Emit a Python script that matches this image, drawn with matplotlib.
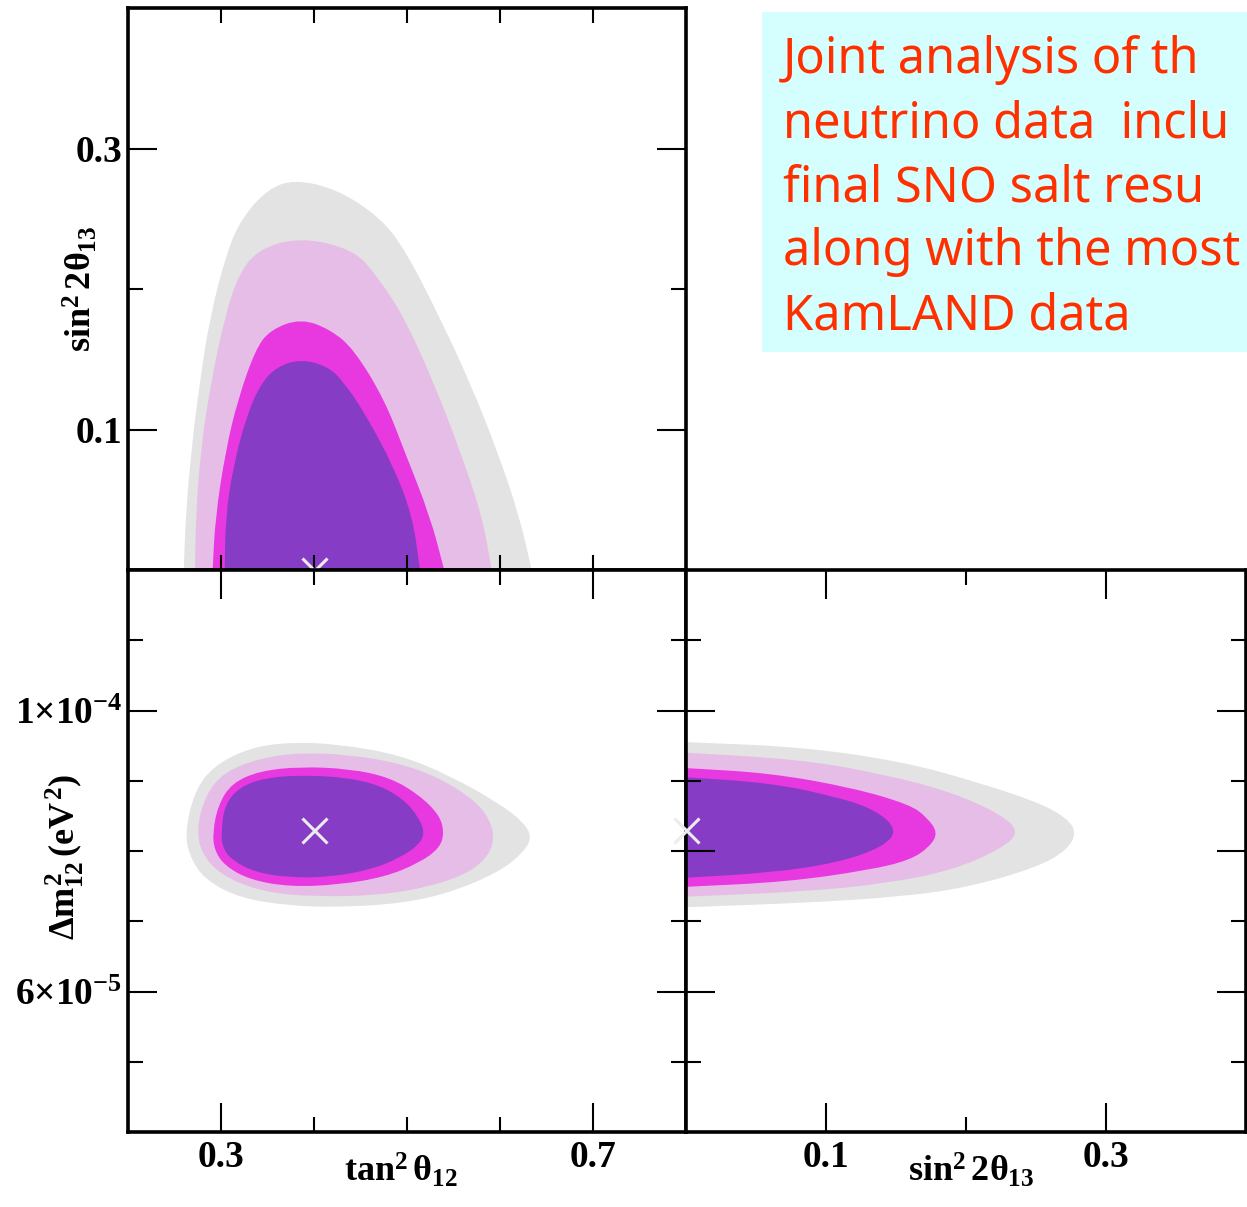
import matplotlib
matplotlib.use('Agg')
import matplotlib.pyplot as plt
from matplotlib.patches import Rectangle, PathPatch
from matplotlib.path import Path

plt.rcParams['font.family'] = 'serif'
plt.rcParams['font.serif'] = ['Liberation Serif', 'DejaVu Serif']
plt.rcParams['font.weight'] = 'bold'
plt.rcParams['mathtext.fontset'] = 'custom'
plt.rcParams['mathtext.rm'] = 'Liberation Serif:bold'
plt.rcParams['mathtext.it'] = 'Liberation Serif:bold'
plt.rcParams['mathtext.bf'] = 'Liberation Serif:bold'

# allowed regions (outer -> inner: grey, light pink, magenta, purple)
# top-left: x = tan^2 theta12, y = sin^2 2theta13
grey_tl_x = [0.260, 0.262, 0.268, 0.277, 0.288, 0.307, 0.323, 0.350, 0.379, 0.425, 0.471, 0.498, 0.535, 0.568, 0.597, 0.621, 0.634]
grey_tl_y = [0.0, 0.038, 0.085, 0.133, 0.180, 0.228, 0.251, 0.271, 0.278, 0.271, 0.251, 0.228, 0.180, 0.133, 0.085, 0.038, 0.0]
pink_tl_x = [0.272, 0.273, 0.278, 0.289, 0.304, 0.318, 0.339, 0.385, 0.443, 0.468, 0.497, 0.529, 0.557, 0.581, 0.591]
pink_tl_y = [0.0, 0.038, 0.085, 0.133, 0.180, 0.209, 0.228, 0.237, 0.228, 0.209, 0.180, 0.133, 0.085, 0.038, 0.0]
mag_tl_x = [0.291, 0.294, 0.305, 0.318, 0.337, 0.353, 0.386, 0.418, 0.443, 0.476, 0.497, 0.525, 0.540]
mag_tl_y = [0.0, 0.038, 0.085, 0.121, 0.157, 0.171, 0.179, 0.171, 0.157, 0.121, 0.085, 0.038, 0.0]
pur_tl_x = [0.304, 0.305, 0.313, 0.327, 0.343, 0.361, 0.386, 0.415, 0.433, 0.457, 0.486, 0.506, 0.514]
pur_tl_y = [0.0, 0.038, 0.073, 0.109, 0.133, 0.145, 0.150, 0.145, 0.133, 0.109, 0.073, 0.038, 0.0]

# bottom-left: x = tan^2 theta12, y = dm^2_12 in 1e-5 eV^2
grey_bl_x = [0.261, 0.272, 0.293, 0.331, 0.374, 0.427, 0.492, 0.545, 0.599, 0.626, 0.634, 0.626, 0.599, 0.545, 0.492, 0.427, 0.374, 0.320, 0.283, 0.267]
grey_bl_y = [8.26, 8.87, 9.22, 9.47, 9.55, 9.52, 9.37, 9.08, 8.68, 8.40, 8.20, 7.99, 7.70, 7.40, 7.25, 7.20, 7.22, 7.33, 7.59, 7.90]
pink_bl_x = [0.273, 0.283, 0.304, 0.342, 0.385, 0.438, 0.492, 0.535, 0.572, 0.588, 0.594, 0.588, 0.567, 0.524, 0.470, 0.406, 0.352, 0.309, 0.283]
pink_bl_y = [8.26, 8.80, 9.13, 9.32, 9.40, 9.37, 9.25, 9.04, 8.73, 8.47, 8.20, 7.94, 7.69, 7.49, 7.37, 7.35, 7.40, 7.59, 7.87]
mag_bl_x = [0.291, 0.297, 0.312, 0.342, 0.385, 0.438, 0.481, 0.513, 0.535, 0.540, 0.535, 0.513, 0.476, 0.427, 0.374, 0.331, 0.304, 0.293]
mag_bl_y = [8.26, 8.66, 8.97, 9.14, 9.20, 9.17, 9.05, 8.80, 8.51, 8.26, 8.04, 7.83, 7.63, 7.52, 7.49, 7.59, 7.79, 8.01]
pur_bl_x = [0.300, 0.304, 0.320, 0.347, 0.385, 0.433, 0.470, 0.497, 0.513, 0.519, 0.513, 0.492, 0.460, 0.417, 0.374, 0.336, 0.312, 0.302]
pur_bl_y = [8.26, 8.66, 8.91, 9.04, 9.08, 9.05, 8.94, 8.73, 8.47, 8.26, 8.09, 7.90, 7.73, 7.63, 7.62, 7.70, 7.87, 8.04]

# bottom-right: x = sin^2 2theta13, y = dm^2_12 in 1e-5 eV^2
grey_br_x = [0.0, 0.084, 0.155, 0.203, 0.251, 0.272, 0.279, 0.272, 0.251, 0.203, 0.155, 0.084, 0.0]
grey_br_y = [9.55, 9.48, 9.27, 9.01, 8.70, 8.47, 8.26, 8.01, 7.77, 7.49, 7.35, 7.26, 7.20]
pink_br_x = [0.0, 0.084, 0.144, 0.191, 0.226, 0.238, 0.226, 0.191, 0.144, 0.084, 0.0]
pink_br_y = [9.40, 9.30, 9.08, 8.83, 8.51, 8.27, 8.04, 7.73, 7.54, 7.42, 7.35]
mag_br_x = [0.0, 0.060, 0.119, 0.160, 0.172, 0.180, 0.174, 0.160, 0.131, 0.072, 0.0]
mag_br_y = [9.18, 9.11, 8.90, 8.66, 8.48, 8.26, 8.06, 7.87, 7.73, 7.56, 7.49]
pur_br_x = [0.0, 0.060, 0.108, 0.136, 0.151, 0.141, 0.108, 0.060, 0.0]
pur_br_y = [9.05, 8.97, 8.77, 8.58, 8.30, 8.06, 7.83, 7.69, 7.62]

# best fit point
bf_tan = 0.40
bf_s13 = 0.0
bf_dm = 8.3

tan_major = [0.3, 0.7]
tan_labels = ['0.3', '0.7']
tan_minor = [0.4, 0.5, 0.6]
s13_major = [0.1, 0.3]
s13_labels = ['0.1', '0.3']
s13_minor = [0.2]
dm_major = [6, 10]
dm_labels = ['6×10$^{-5}$', '1×10$^{-4}$']
dm_minor = [5, 7, 8, 9, 11]

# the box runs off the right edge of the slide, only this much of it shows
box_lines = ['Joint analysis of th', 'neutrino data  inclu', 'final SNO salt resu',
             'along with the most', 'KamLAND data']

colours = ['#e3e3e3', '#e6bde6', '#e838e0', '#873cc5']

W, H = 1247, 1207
fig = plt.figure(figsize=(W / 100, H / 100), dpi=100)
fig.patch.set_facecolor('white')


def px_axes(x0, y0, x1, y1):
    return fig.add_axes([x0 / W, 1 - y1 / H, (x1 - x0) / W, (y1 - y0) / H])


def style(ax):
    for s in ax.spines.values():
        s.set_linewidth(2.6)
    ax.tick_params(which='both', direction='in', top=True, right=True,
                   width=1.5, labelsize=27)
    ax.tick_params(axis='x', pad=6)
    ax.tick_params(axis='y', pad=4)
    ax.tick_params(which='major', length=21)
    ax.tick_params(which='minor', length=11)


def mid(a, b):
    return ((a[0] + b[0]) / 2, (a[1] + b[1]) / 2)


def smooth_path(x, y, closed=True):
    # quadratic b-spline through the read points, drawn as path curves
    pts = list(zip(x, y))
    n = len(pts)
    if closed:
        verts = [mid(pts[-1], pts[0])]
        codes = [Path.MOVETO]
        for i in range(n):
            verts += [pts[i], mid(pts[i], pts[(i + 1) % n])]
            codes += [Path.CURVE3, Path.CURVE3]
    else:
        # first/last points sit on the frame: keep them exact
        verts = [pts[0], mid(pts[0], pts[1])]
        codes = [Path.MOVETO, Path.LINETO]
        for i in range(1, n - 1):
            verts += [pts[i], mid(pts[i], pts[i + 1])]
            codes += [Path.CURVE3, Path.CURVE3]
        verts.append(pts[-1])
        codes.append(Path.LINETO)
    verts.append(verts[0])
    codes.append(Path.CLOSEPOLY)
    return Path(verts, codes)


def regions(ax, xs, ys, closed):
    for x, y, c in zip(xs, ys, colours):
        ax.add_patch(PathPatch(smooth_path(x, y, closed), facecolor=c, lw=0, zorder=1))


ax1 = px_axes(128, 8, 686, 570)
ax2 = px_axes(128, 570, 686, 1132)
ax3 = px_axes(686, 570, 1246, 1132)

# top-left
regions(ax1, [grey_tl_x, pink_tl_x, mag_tl_x, pur_tl_x], [grey_tl_y, pink_tl_y, mag_tl_y, pur_tl_y], False)
ax1.plot([bf_tan], [bf_s13], marker='x', ms=18, mew=2.2, color='#ececec', clip_on=False, zorder=3)
ax1.set_xlim(0.2, 0.8)
ax1.set_ylim(0.0, 0.4)
style(ax1)
ax1.set_xticks(tan_major, ['', ''])
ax1.set_xticks(tan_minor, minor=True)
ax1.set_yticks(s13_major, s13_labels)
ax1.set_yticks(s13_minor, minor=True)
ax1.tick_params(axis='x', which='major', length=11)
ax1.set_ylabel(r'$\sin^2 2\theta_{13}$', fontsize=26)
ax1.yaxis.set_label_coords(-0.05, 0.5)

# bottom-left
regions(ax2, [grey_bl_x, pink_bl_x, mag_bl_x, pur_bl_x], [grey_bl_y, pink_bl_y, mag_bl_y, pur_bl_y], True)
ax2.plot([bf_tan], [bf_dm], marker='x', ms=18, mew=2.2, color='#ececec', zorder=3)
ax2.set_xlim(0.2, 0.8)
ax2.set_ylim(4, 12)
style(ax2)
ax2.set_xticks(tan_major, tan_labels)
ax2.set_xticks(tan_minor, minor=True)
ax2.set_yticks(dm_major, dm_labels)
ax2.set_yticks(dm_minor, minor=True)
ax2.set_xlabel(r'$\tan^2\theta_{12}$', fontsize=26)
ax2.xaxis.set_label_coords(0.49, -0.035)
ax2.set_ylabel(r'$\Delta m^2_{12}\,(eV^2)$', fontsize=26)
ax2.yaxis.set_label_coords(-0.075, 0.49)

# bottom-right
regions(ax3, [grey_br_x, pink_br_x, mag_br_x, pur_br_x], [grey_br_y, pink_br_y, mag_br_y, pur_br_y], False)
ax3.plot([bf_s13], [bf_dm], marker='x', ms=18, mew=2.2, color='#ececec', clip_on=False, zorder=3)
ax3.set_xlim(0.0, 0.4)
ax3.set_ylim(4, 12)
style(ax3)
ax3.set_xticks(s13_major, s13_labels)
ax3.set_xticks(s13_minor, minor=True)
ax3.set_yticks([6, 8, 10], ['', '', ''])
ax3.set_yticks([5, 7, 9, 11], minor=True)
ax3.set_xlabel(r'$\sin^2 2\theta_{13}$', fontsize=26)
ax3.xaxis.set_label_coords(0.51, -0.035)

# annotation box
fig.patches.append(Rectangle((762 / W, 1 - 352 / H), (W - 762) / W, 340 / H,
                             transform=fig.transFigure, facecolor='#d5ffff',
                             edgecolor='none', zorder=0))
texts = []
for i, line in enumerate(box_lines):
    texts.append(fig.text(783 / W, 1 - (73 + 64 * i) / H, line, family='Noto Sans',
                          fontweight='normal', fontsize=38, color='#ff3000',
                          va='baseline', ha='left'))

# shrink the box text if the longest line would run past the figure edge
renderer = fig.canvas.get_renderer()
widest = max(t.get_window_extent(renderer).width for t in texts)
room = W - 783 - 6
if widest > room:
    for t in texts:
        t.set_fontsize(38 * room / widest)

fig.savefig('out.png', dpi=100)
